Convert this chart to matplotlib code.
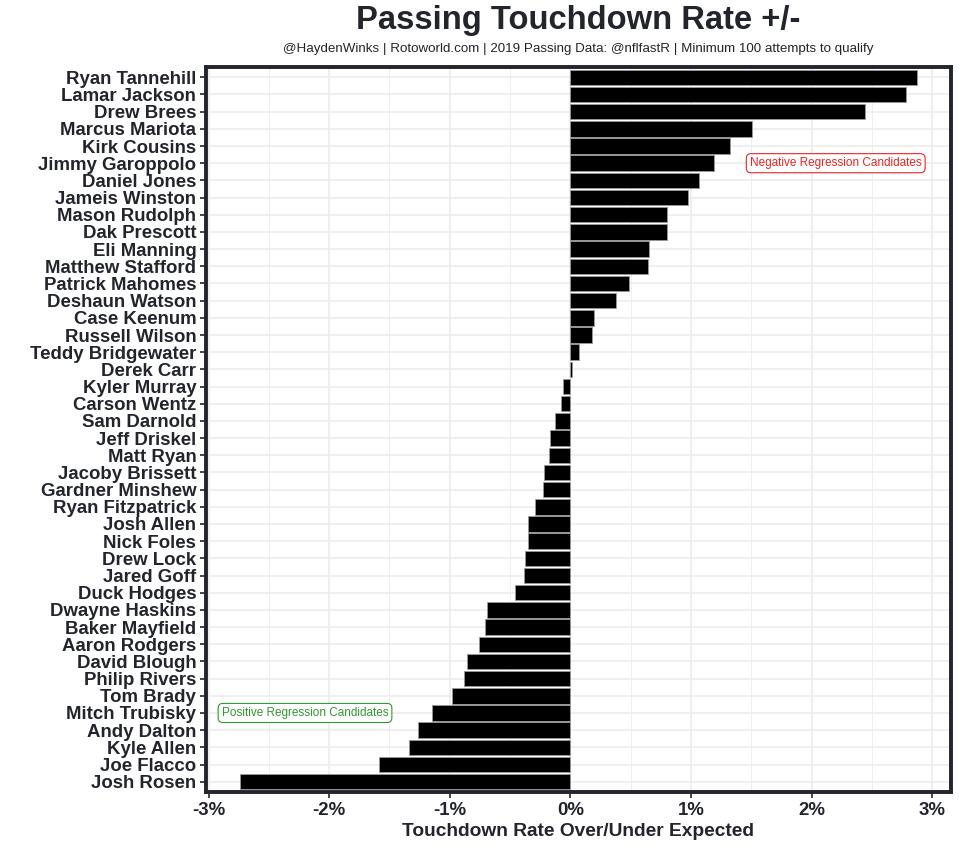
import matplotlib
matplotlib.use("Agg")
import matplotlib.pyplot as plt
from matplotlib.ticker import FixedLocator, FuncFormatter, MultipleLocator

players = ["Ryan Tannehill", "Lamar Jackson", "Drew Brees", "Marcus Mariota", "Kirk Cousins",
           "Jimmy Garoppolo", "Daniel Jones", "Jameis Winston", "Mason Rudolph", "Dak Prescott",
           "Eli Manning", "Matthew Stafford", "Patrick Mahomes", "Deshaun Watson", "Case Keenum",
           "Russell Wilson", "Teddy Bridgewater", "Derek Carr", "Kyler Murray", "Carson Wentz",
           "Sam Darnold", "Jeff Driskel", "Matt Ryan", "Jacoby Brissett", "Gardner Minshew",
           "Ryan Fitzpatrick", "Josh Allen", "Nick Foles", "Drew Lock", "Jared Goff",
           "Duck Hodges", "Dwayne Haskins", "Baker Mayfield", "Aaron Rodgers", "David Blough",
           "Philip Rivers", "Tom Brady", "Mitch Trubisky", "Andy Dalton", "Kyle Allen",
           "Joe Flacco", "Josh Rosen"]
td_rate_oe = [2.875, 2.78, 2.444, 1.505, 1.326,
              1.188, 1.064, 0.973, 0.80, 0.798,
              0.655, 0.644, 0.49, 0.375, 0.193,
              0.176, 0.069, 0.015, -0.06, -0.077,
              -0.125, -0.17, -0.18, -0.22, -0.23,
              -0.29, -0.35, -0.352, -0.38, -0.382,
              -0.46, -0.693, -0.71, -0.757, -0.856,
              -0.878, -0.98, -1.15, -1.26, -1.34,
              -1.59, -2.74]
x_ticks = [-3, -2, -1, 0, 1, 2, 3]

title = "Passing Touchdown Rate +/-"
subtitle = "@HaydenWinks | Rotoworld.com | 2019 Passing Data: @nflfastR | Minimum 100 attempts to qualify"
xlabel = "Touchdown Rate Over/Under Expected"
neg_label = "Negative Regression Candidates"
pos_label = "Positive Regression Candidates"

plt.rcParams['font.family'] = ['Liberation Sans', 'DejaVu Sans']
dark = "#22252b"

fig = plt.figure(figsize=(9.59, 8.46), dpi=100)
ax = fig.add_axes([206/959, 1-792/846, (951-206)/959, (792-67)/846])

n = len(players)
ypos = list(range(n, 0, -1))
ax.barh(ypos, td_rate_oe, height=0.9, color="black", edgecolor="#9a9a9a", linewidth=0.6, zorder=3)

lo, hi = min(td_rate_oe), max(td_rate_oe)
pad = (hi - lo) * 0.05
ax.set_xlim(lo - pad, hi + pad)
ax.set_ylim(0.4, n + 0.6)

ax.xaxis.set_major_locator(FixedLocator(x_ticks))
ax.xaxis.set_minor_locator(MultipleLocator(0.5))
ax.xaxis.set_major_formatter(FuncFormatter(lambda v, p: f"{v:.0f}%"))
ax.set_yticks(ypos)
ax.set_yticklabels(players)

ax.grid(True, which="major", color="#ebebeb", linewidth=1.1, zorder=0)
ax.grid(True, which="minor", axis="x", color="#ebebeb", linewidth=0.6, zorder=0)
ax.set_axisbelow(True)

for s in ax.spines.values():
    s.set_color(dark)
    s.set_linewidth(2.8)

ax.tick_params(axis="y", which="major", length=4, width=1.2, color=dark, pad=3,
               labelsize=13.4, labelcolor=dark)
ax.tick_params(axis="x", which="major", length=4, width=1.2, color=dark, pad=3,
               labelsize=13.4, labelcolor=dark)
ax.tick_params(axis="x", which="minor", length=0)
for lab in ax.get_yticklabels() + ax.get_xticklabels():
    lab.set_fontweight("bold")

ax.set_xlabel(xlabel, fontsize=13.8, fontweight="bold", color=dark, labelpad=3)

ax.text(2.2, ypos[players.index("Jimmy Garoppolo")], neg_label, color="#ee2222", fontsize=8.5,
        ha="center", va="center", zorder=5,
        bbox=dict(boxstyle="round,pad=0.3,rounding_size=0.4", fc="white", ec="#ee2222", lw=0.8))
ax.text(-2.2, ypos[players.index("Mitch Trubisky")], pos_label, color="#2e9a2e", fontsize=8.5,
        ha="center", va="center", zorder=5,
        bbox=dict(boxstyle="round,pad=0.3,rounding_size=0.4", fc="white", ec="#2e9a2e", lw=0.8))

fig.text(578.5/959, 1-20/846, title, ha="center", va="center", fontsize=23.6,
         fontweight="bold", color=dark)
fig.text(578.5/959, 1-49/846, subtitle, ha="center", va="center", fontsize=9.6, color=dark)

fig.savefig("out.png", dpi=100, facecolor="white")
